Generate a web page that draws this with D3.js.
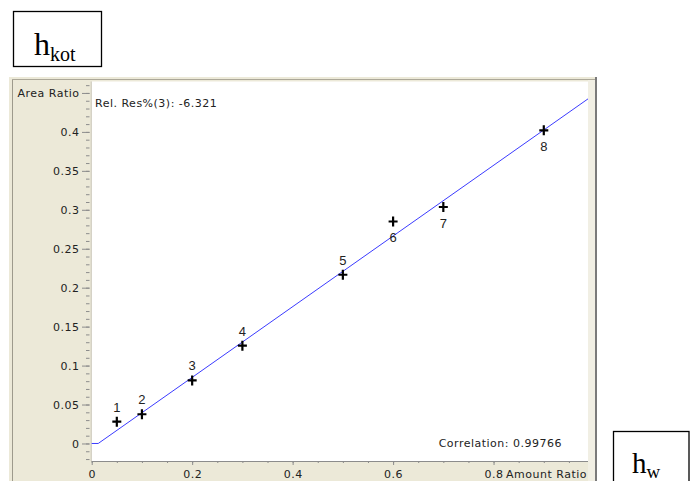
<!DOCTYPE html>
<html>
<head>
<meta charset="utf-8">
<script src="https://cdn.jsdelivr.net/npm/d3@7"></script>
<style>
  html, body { margin: 0; padding: 0; background: #fff; }
  svg { display: block; }
</style>
</head>
<body>
<svg id="chart" width="690" height="481"></svg>
<script>
// Calibration points: amount ratio (x) vs. area ratio (y)
const levels      = ["1", "2", "3", "4", "5", "6", "7", "8"];
const amountRatio = [0.05, 0.10, 0.20, 0.30, 0.50, 0.60, 0.70, 0.90];
const areaRatio   = [0.028, 0.0375, 0.081, 0.1255, 0.2166, 0.285, 0.3036, 0.402];
const labelBelow  = [false, false, false, false, false, true, true, true];

// Calibration curve vertices (x, y)
const curveX = [0, 0.013, 0.988];
const curveY = [0, 0, 0.4424];

// Axis ticks
const yMajorTicks = [0, 0.05, 0.1, 0.15, 0.2, 0.25, 0.3, 0.35, 0.4, 0.45];
const yTickLabels = ["0", "0.05", "0.1", "0.15", "0.2", "0.25", "0.3", "0.35", "0.4", "Area Ratio"];
const xMajorTicks = [0, 0.2, 0.4, 0.6, 0.8];
const xTickLabels = ["0", "0.2", "0.4", "0.6", "0.8"];

const relResText = "Rel. Res%(3): -6.321";
const corrText = "Correlation: 0.99766";

const svg = d3.select("#chart");
const font = "'DejaVu Sans', sans-serif";
const fs = 11;
const ls = 0.5;

// Plot window
const plot = { left: 91.7, right: 588, top: 81.5, bottom: 461 };
const x = d3.scaleLinear().domain([0, 0.988]).range([plot.left, plot.right]);
const y = d3.scaleLinear().domain([-0.0225, 0.4647]).range([plot.bottom, plot.top]);

// Panel frame
svg.append("rect").attr("x", 9).attr("y", 77).attr("width", 588).attr("height", 404)
  .attr("fill", "#ECE9D8");
svg.append("line").attr("x1", 12.5).attr("x2", 12.5).attr("y1", 79).attr("y2", 481)
  .attr("stroke", "#9d9a8c").attr("stroke-width", 1);
svg.append("line").attr("x1", 12).attr("x2", 596).attr("y1", 79.5).attr("y2", 79.5)
  .attr("stroke", "#aca899").attr("stroke-width", 1);
svg.append("rect").attr("x", 588).attr("y", 80).attr("width", 7).attr("height", 401)
  .attr("fill", "#F1EFE4");
svg.append("line").attr("x1", 596).attr("x2", 596).attr("y1", 77).attr("y2", 481)
  .attr("stroke", "#7a7a7a").attr("stroke-width", 2);

// White plotting area
svg.append("rect")
  .attr("x", plot.left).attr("y", plot.top)
  .attr("width", plot.right - plot.left).attr("height", plot.bottom - plot.top)
  .attr("fill", "#fff");
svg.append("line").attr("x1", plot.left - 0.5).attr("x2", plot.left - 0.5)
  .attr("y1", plot.top).attr("y2", plot.bottom)
  .attr("stroke", "#c8c5b8").attr("stroke-width", 1);

// Y axis: minor ticks every 0.01, major every 0.05
const yMinor = d3.range(-2, 47).map(i => i / 100);
const yMinorAxis = svg.append("g").attr("transform", "translate(89.5,0)")
  .call(d3.axisLeft(y).tickValues(yMinor).tickSize(3.5).tickFormat(""));
const yAxis = svg.append("g").attr("transform", "translate(89.5,0)")
  .call(d3.axisLeft(y).tickValues(yMajorTicks).tickSize(7.5).tickPadding(2.5)
    .tickFormat((d, i) => yTickLabels[i]));
[yMinorAxis, yAxis].forEach(g => {
  g.select(".domain").remove();
  g.selectAll(".tick line").attr("stroke", "#8c8c8c");
});
yAxis.selectAll("text").attr("font-family", font).attr("font-size", fs)
  .attr("letter-spacing", ls).attr("fill", "#222");

// X axis: minor ticks every 0.05, major every 0.2
const xMinor = d3.range(0, 20).map(i => i * 0.05);
const xMinorAxis = svg.append("g").attr("transform", `translate(0,${plot.bottom})`)
  .call(d3.axisBottom(x).tickValues(xMinor).tickSize(2).tickFormat(""));
const xAxis = svg.append("g").attr("transform", `translate(0,${plot.bottom})`)
  .call(d3.axisBottom(x).tickValues(xMajorTicks).tickSize(4).tickPadding(5)
    .tickFormat((d, i) => xTickLabels[i]));
xMinorAxis.select(".domain").attr("stroke", "#8c8c8c").attr("d", `M${plot.left},0.5H${plot.right}`);
xMinorAxis.selectAll(".tick line").attr("stroke", "#8c8c8c");
xAxis.select(".domain").remove();
xAxis.selectAll(".tick line").attr("stroke", "#8c8c8c");
xAxis.selectAll("text").attr("font-family", font).attr("font-size", fs)
  .attr("letter-spacing", ls).attr("fill", "#222");

svg.append("text").attr("x", 587).attr("y", 477.8).attr("text-anchor", "end")
  .attr("font-family", font).attr("font-size", fs).attr("letter-spacing", ls).attr("fill", "#222")
  .text("Amount Ratio");

// Calibration curve
const curve = curveX.map((v, i) => [v, curveY[i]]);
svg.append("path")
  .datum(curve)
  .attr("d", d3.line().x(d => x(d[0])).y(d => y(d[1])))
  .attr("fill", "none").attr("stroke", "#3b3bff").attr("stroke-width", 1);

// Calibration points
const pts = levels.map((l, i) => ({ l, xv: amountRatio[i], yv: areaRatio[i], below: labelBelow[i] }));
const g = svg.append("g");
g.selectAll("path.pt").data(pts).join("path")
  .attr("class", "pt")
  .attr("transform", d => `translate(${x(d.xv)},${y(d.yv)})`)
  .attr("d", "M-4.5,0H4.5M0,-5V5")
  .attr("stroke", "#000").attr("stroke-width", 2.2).attr("fill", "none");
g.selectAll("text.lbl").data(pts).join("text")
  .attr("class", "lbl")
  .attr("x", d => x(d.xv))
  .attr("y", d => y(d.yv) + (d.below ? 21 : -10))
  .attr("text-anchor", "middle")
  .attr("font-family", "'Liberation Sans', Arial, sans-serif").attr("font-size", 13)
  .attr("fill", "#222")
  .text(d => d.l);

// Annotations
svg.append("text").attr("x", 95).attr("y", 107)
  .attr("font-family", font).attr("font-size", fs).attr("letter-spacing", ls).attr("fill", "#222")
  .text(relResText);
svg.append("text").attr("x", 562).attr("y", 447)
  .attr("text-anchor", "end")
  .attr("font-family", font).attr("font-size", fs).attr("letter-spacing", ls).attr("fill", "#222")
  .text(corrText);

// Side captions
const serif = "'Liberation Serif', 'Times New Roman', serif";
svg.append("rect").attr("x", 13.5).attr("y", 11.5).attr("width", 88).attr("height", 55)
  .attr("fill", "#fff").attr("stroke", "#000").attr("stroke-width", 1.3);
const t1 = svg.append("text").attr("x", 34).attr("y", 55).attr("font-family", serif).attr("fill", "#000");
t1.append("tspan").attr("font-size", 32).text("h");
t1.append("tspan").attr("font-size", 20).attr("dy", 6).text("kot");

svg.append("rect").attr("x", 613.5).attr("y", 431.5).attr("width", 75.5).attr("height", 60)
  .attr("fill", "#fff").attr("stroke", "#000").attr("stroke-width", 1.3);
const t2 = svg.append("text").attr("x", 632).attr("y", 473).attr("font-family", serif).attr("fill", "#000");
t2.append("tspan").attr("font-size", 29).text("h");
t2.append("tspan").attr("font-size", 19).attr("dy", 5).text("w");
</script>
</body>
</html>
